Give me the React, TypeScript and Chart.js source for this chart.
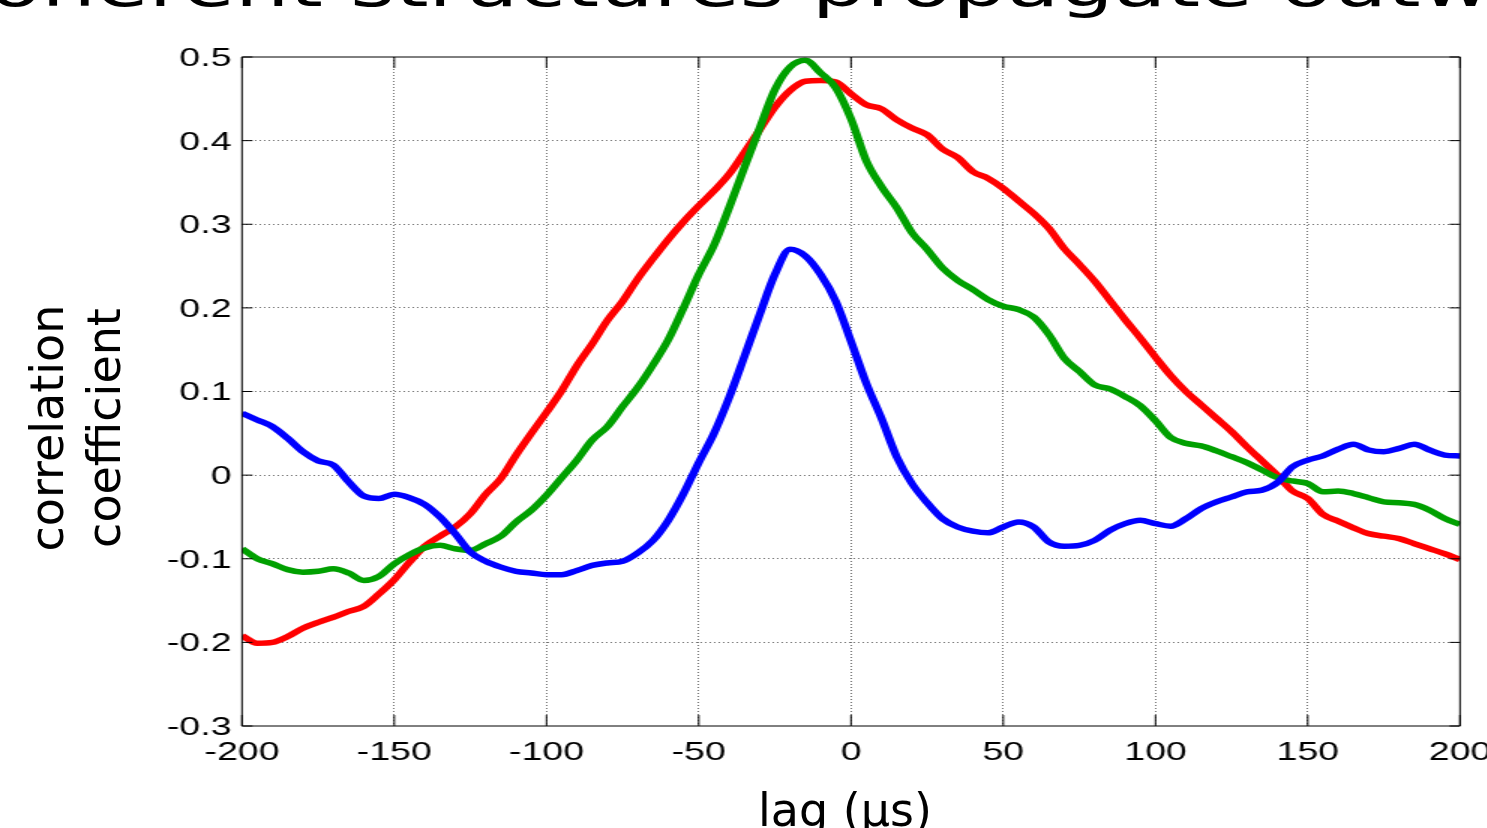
import React, { useEffect, useRef } from "react";
import { Chart, registerables } from "chart.js";

Chart.register(...registerables);

const lags = [
  -200, -195, -190, -185, -180, -175, -170, -165, -160, -155, -150, -145, -140, -135, -130, -125,
  -120, -115, -110, -105, -100, -95, -90, -85, -80, -75, -70, -65, -60, -55, -50, -45, -40, -35,
  -30, -25, -20, -15, -10, -5, 0, 5, 10, 15, 20, 25, 30, 35, 40, 45, 50, 55, 60, 65, 70, 75, 80,
  85, 90, 95, 100, 105, 110, 115, 120, 125, 130, 135, 140, 145, 150, 155, 160, 165, 170, 175, 180,
  185, 190, 195, 200,
];

const blueSeries = [
  0.074, 0.066, 0.058, 0.044, 0.028, 0.017, 0.012, -0.008, -0.025, -0.028, -0.023, -0.027, -0.035,
  -0.05, -0.07, -0.092, -0.103, -0.11, -0.115, -0.117, -0.119, -0.119, -0.114, -0.108, -0.105,
  -0.103, -0.093, -0.078, -0.054, -0.022, 0.015, 0.05, 0.093, 0.142, 0.192, 0.24, 0.27, 0.262, 0.24,
  0.208, 0.16, 0.11, 0.068, 0.022, -0.01, -0.033, -0.052, -0.062, -0.067, -0.069, -0.062, -0.056,
  -0.062, -0.08, -0.085, -0.084, -0.078, -0.066, -0.058, -0.054, -0.058, -0.061, -0.052, -0.04,
  -0.032, -0.026, -0.02, -0.018, -0.009, 0.01, 0.018, 0.023, 0.031, 0.037, 0.03, 0.028, 0.032,
  0.037, 0.03, 0.024, 0.023,
];

const redSeries = [
  -0.192, -0.201, -0.2, -0.193, -0.183, -0.176, -0.17, -0.163, -0.157, -0.142, -0.125, -0.104,
  -0.085, -0.073, -0.062, -0.046, -0.023, -0.004, 0.024, 0.05, 0.075, 0.101, 0.131, 0.157, 0.185,
  0.208, 0.235, 0.259, 0.282, 0.303, 0.322, 0.34, 0.36, 0.386, 0.413, 0.44, 0.46, 0.471, 0.472,
  0.47, 0.456, 0.443, 0.438, 0.425, 0.415, 0.407, 0.39, 0.38, 0.363, 0.355, 0.343, 0.328, 0.313,
  0.295, 0.271, 0.252, 0.232, 0.209, 0.186, 0.164, 0.141, 0.119, 0.1, 0.084, 0.068, 0.052, 0.034,
  0.017, 0.0, -0.019, -0.028, -0.047, -0.055, -0.063, -0.07, -0.073, -0.076, -0.082, -0.088,
  -0.094, -0.101,
];

const greenSeries = [
  -0.088, -0.1, -0.106, -0.113, -0.116, -0.115, -0.112, -0.117, -0.126, -0.121, -0.106, -0.095,
  -0.087, -0.084, -0.088, -0.09, -0.082, -0.073, -0.056, -0.042, -0.024, -0.003, 0.018, 0.042,
  0.058, 0.082, 0.105, 0.132, 0.162, 0.2, 0.24, 0.275, 0.32, 0.368, 0.415, 0.461, 0.488, 0.496,
  0.481, 0.463, 0.426, 0.376, 0.345, 0.32, 0.29, 0.27, 0.248, 0.233, 0.222, 0.21, 0.202, 0.198,
  0.189, 0.168, 0.14, 0.124, 0.108, 0.103, 0.094, 0.083, 0.065, 0.045, 0.038, 0.035, 0.029, 0.022,
  0.015, 0.006, -0.003, -0.007, -0.01, -0.02, -0.019, -0.022, -0.027, -0.032, -0.033, -0.035,
  -0.042, -0.052, -0.059,
];

const xTicks = [-200, -150, -100, -50, 0, 50, 100, 150, 200];
const xTickLabels = ["-200", "-150", "-100", "-50", "0", "50", "100", "150", "200"];
const yTicks = [-0.3, -0.2, -0.1, 0, 0.1, 0.2, 0.3, 0.4, 0.5];
const yTickLabels = ["-0.3", "-0.2", "-0.1", "0", "0.1", "0.2", "0.3", "0.4", "0.5"];

const titleText = "Coherent structures propagate outward";
const xLabel = "lag (\u00b5s)";
const yLabelLines = ["correlation", "coefficient"];

const STRETCH = 1.5;
const CW = 1010;
const CH = 828;
const PLOT_LEFT = 242 / STRETCH;
const PLOT_RIGHT = 1460 / STRETCH;
const PLOT_TOP = 57;
const PLOT_BOTTOM = 726;

const boxPlugin = {
  id: "matlabBox",
  afterDatasetsDraw(chart: any) {
    const { ctx, chartArea: a, scales } = chart;
    const xs = scales.x;
    const ys = scales.y;
    ctx.save();
    ctx.setLineDash([]);
    ctx.strokeStyle = "#000";
    ctx.lineWidth = 1;
    ctx.beginPath();
    ctx.rect(a.left, a.top, a.right - a.left, a.bottom - a.top);
    xs.ticks.forEach((t: any) => {
      const px = xs.getPixelForValue(t.value);
      ctx.moveTo(px, a.bottom);
      ctx.lineTo(px, a.bottom - 11);
      ctx.moveTo(px, a.top);
      ctx.lineTo(px, a.top + 11);
    });
    ys.ticks.forEach((t: any) => {
      const py = ys.getPixelForValue(t.value);
      ctx.moveTo(a.left, py);
      ctx.lineTo(a.left + 7, py);
      ctx.moveTo(a.right, py);
      ctx.lineTo(a.right - 7, py);
    });
    ctx.stroke();
    ctx.restore();
  },
};

export default function App() {
  const canvasRef = useRef<HTMLCanvasElement | null>(null);

  useEffect(() => {
    const canvas = canvasRef.current;
    if (!canvas) return;
    const mk = (vals: number[]) => lags.map((x, i) => ({ x, y: vals[i] }));
    const gridColor = (c: any) => {
      const n = c.scale && c.scale.ticks ? c.scale.ticks.length : 0;
      if (c.index === 0 || c.index === n - 1) return "rgba(0,0,0,0)";
      return "#707070";
    };
    const chart = new Chart(canvas, {
      type: "line",
      data: {
        datasets: [
          { label: "blue", data: mk(blueSeries), borderColor: "#0000ff" },
          { label: "green", data: mk(greenSeries), borderColor: "#00a000" },
          { label: "red", data: mk(redSeries), borderColor: "#ff0000" },
        ].map((d) => ({
          ...d,
          borderWidth: 5.5,
          pointRadius: 0,
          fill: false,
          cubicInterpolationMode: "monotone" as const,
        })),
      },
      options: {
        animation: false,
        responsive: false,
        devicePixelRatio: 1,
        layout: {
          padding: { left: 0, right: CW - PLOT_RIGHT, top: PLOT_TOP, bottom: 0 },
        },
        plugins: {
          legend: { display: false },
          title: { display: false },
          tooltip: { enabled: false },
        },
        scales: {
          x: {
            type: "linear",
            min: -200,
            max: 200,
            afterBuildTicks: (s: any) => {
              s.ticks = xTicks.map((v) => ({ value: v }));
            },
            afterFit: (s: any) => {
              s.height = CH - PLOT_BOTTOM;
            },
            ticks: {
              autoSkip: false,
              maxRotation: 0,
              padding: 12,
              color: "#000",
              font: { family: "'Liberation Sans', Arial, sans-serif", size: 25 },
              callback: (_v: any, i: number) => xTickLabels[i],
            },
            grid: { color: gridColor, lineWidth: 1, drawTicks: false },
            border: { display: false, dash: [1, 2] },
          },
          y: {
            type: "linear",
            min: -0.3,
            max: 0.5,
            afterBuildTicks: (s: any) => {
              s.ticks = yTicks.map((v) => ({ value: v }));
            },
            afterFit: (s: any) => {
              s.width = PLOT_LEFT;
            },
            ticks: {
              autoSkip: false,
              padding: 7,
              labelOffset: 2,
              color: "#000",
              font: { family: "'Liberation Sans', Arial, sans-serif", size: 25 },
              callback: (_v: any, i: number) => yTickLabels[i],
            },
            grid: { color: gridColor, lineWidth: 1, drawTicks: false },
            border: { display: false, dash: [1, 2] },
          },
        },
      },
      plugins: [boxPlugin],
    });
    return () => chart.destroy();
  }, []);

  return (
    <div
      style={{
        position: "fixed",
        left: 0,
        top: 0,
        width: 1487,
        height: 828,
        overflow: "hidden",
        background: "#fff",
        fontFamily: "'DejaVu Sans', sans-serif",
        color: "#000",
      }}
    >
      <div
        style={{
          position: "absolute",
          left: 0,
          top: 0,
          width: CW,
          height: CH,
          transform: `scaleX(${STRETCH})`,
          transformOrigin: "0 0",
        }}
      >
        <canvas ref={canvasRef} width={CW} height={CH} style={{ display: "block", width: CW, height: CH }} />
      </div>
      <div
        style={{
          position: "absolute",
          left: -71,
          top: -43,
          fontSize: 58,
          lineHeight: "58px",
          whiteSpace: "nowrap",
          transform: "scaleX(1.48)",
          transformOrigin: "0 0",
        }}
      >
        {titleText}
      </div>
      <div
        style={{
          position: "absolute",
          left: 645,
          width: 400,
          top: 787,
          fontSize: 46,
          lineHeight: "46px",
          textAlign: "center",
          whiteSpace: "nowrap",
        }}
      >
        {xLabel}
      </div>
      <div
        style={{
          position: "absolute",
          left: 75.6 - 200,
          top: 428 - 57,
          width: 400,
          height: 114,
          fontSize: 46,
          lineHeight: "57px",
          textAlign: "center",
          whiteSpace: "nowrap",
          transform: "rotate(-90deg)",
          transformOrigin: "50% 50%",
        }}
      >
        {yLabelLines.map((l) => (
          <div key={l}>{l}</div>
        ))}
      </div>
    </div>
  );
}
